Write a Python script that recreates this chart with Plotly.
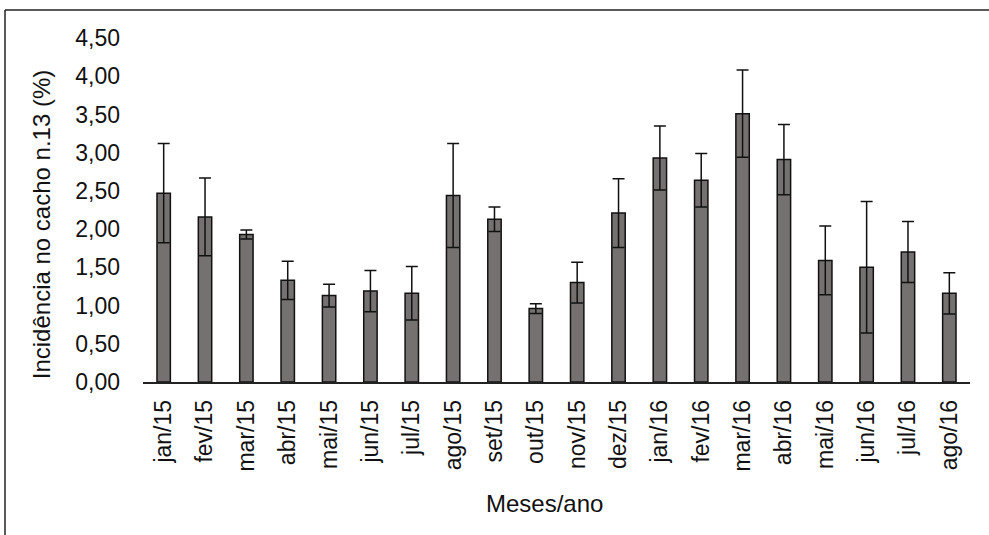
import plotly.graph_objects as go

months = ["jan/15", "fev/15", "mar/15", "abr/15", "mai/15", "jun/15", "jul/15", "ago/15",
          "set/15", "out/15", "nov/15", "dez/15", "jan/16", "fev/16", "mar/16", "abr/16",
          "mai/16", "jun/16", "jul/16", "ago/16"]
incidence = [2.47, 2.16, 1.93, 1.33, 1.13, 1.19, 1.16, 2.44, 2.13, 0.96,
             1.30, 2.21, 2.93, 2.64, 3.51, 2.91, 1.59, 1.50, 1.70, 1.16]
errors = [0.65, 0.51, 0.06, 0.25, 0.15, 0.27, 0.35, 0.68, 0.16, 0.065,
          0.265, 0.45, 0.42, 0.35, 0.57, 0.46, 0.45, 0.86, 0.40, 0.27]
y_ticks = [0, 0.5, 1.0, 1.5, 2.0, 2.5, 3.0, 3.5, 4.0, 4.5]

W, H = 989, 535
L, R, T, B = 143, 19, 38, 152.5
pw, ph = W - L - R, H - T - B

def px(x):
    return (x - L) / pw

def py(y):
    return (H - B - y) / ph

FONT = "Liberation Sans, Arial, sans-serif"

fig = go.Figure(go.Bar(
    x=months, y=incidence,
    marker=dict(color="#767171", line=dict(color="#111111", width=1.5)),
    error_y=dict(type="data", array=errors, visible=True, color="#111111",
                 thickness=1.5, width=6),
))

fig.update_layout(
    width=W, height=H,
    margin=dict(l=L, r=R, t=T, b=B, autoexpand=False),
    plot_bgcolor="white", paper_bgcolor="white",
    separators=",.",
    bargap=0.676,
    showlegend=False,
    font=dict(family=FONT, size=23, color="#111111"),
    xaxis=dict(
        showline=True, linecolor="#222222", linewidth=1.5,
        ticks="", tickangle=-90, showgrid=False,
        tickfont=dict(size=23), ticklabelstandoff=7,
    ),
    yaxis=dict(
        range=[0, 4.5], tickvals=y_ticks, tickformat=".2f",
        showline=False, showgrid=False, zeroline=False, ticks="",
        tickfont=dict(size=23), ticklabelstandoff=22,
    ),
    annotations=[
        dict(text="Meses/ano", xref="paper", yref="paper",
             x=px(544.5), y=py(504), showarrow=False,
             xanchor="center", yanchor="middle", font=dict(size=24)),
        dict(text="Incidência no cacho n.13 (%)", xref="paper", yref="paper",
             x=px(41), y=py(224.5), showarrow=False, textangle=-90,
             xanchor="center", yanchor="middle", font=dict(size=24)),
    ],
    shapes=[
        dict(type="line", xref="paper", yref="paper",
             x0=px(5), x1=px(995), y0=py(10), y1=py(10),
             line=dict(color="#222222", width=1.5)),
        dict(type="line", xref="paper", yref="paper",
             x0=px(5), x1=px(5), y0=py(10), y1=py(540),
             line=dict(color="#222222", width=1.5)),
    ],
)

fig.write_html("out.html", config={"displayModeBar": False},
               post_script="document.body.style.margin='0';")
